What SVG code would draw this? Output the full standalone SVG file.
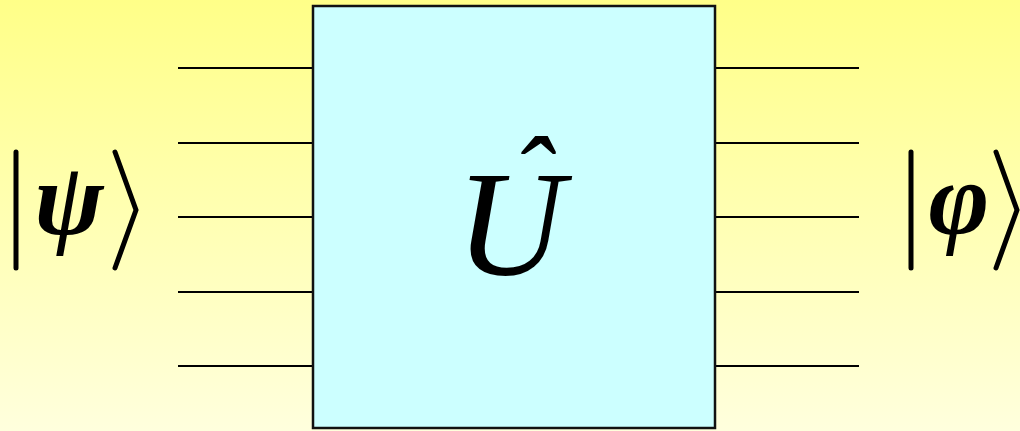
<svg xmlns="http://www.w3.org/2000/svg" width="1020" height="431" viewBox="0 0 1020 431">
<defs>
<linearGradient id="bg" x1="0" y1="0" x2="0" y2="1">
<stop offset="0" stop-color="#FFFF88"/>
<stop offset="1" stop-color="#FFFFDD"/>
</linearGradient>
<style>
.wire{stroke:#000;stroke-width:2;fill:none}
.delim{stroke:#000;stroke-width:5;fill:none;stroke-linecap:round;stroke-linejoin:miter}
.math{font-family:"Liberation Serif","Times New Roman",serif;font-style:italic;fill:#000}
</style>
</defs>
<rect x="0" y="0" width="1020" height="431" fill="url(#bg)"/>
<g id="connectors">
<line class="wire" x1="178" y1="68" x2="312" y2="68"/>
<line class="wire" x1="178" y1="143" x2="312" y2="143"/>
<line class="wire" x1="178" y1="217" x2="312" y2="217"/>
<line class="wire" x1="178" y1="292" x2="312" y2="292"/>
<line class="wire" x1="178" y1="366" x2="312" y2="366"/>
<line class="wire" x1="715" y1="68" x2="859" y2="68"/>
<line class="wire" x1="715" y1="143" x2="859" y2="143"/>
<line class="wire" x1="715" y1="217" x2="859" y2="217"/>
<line class="wire" x1="715" y1="292" x2="859" y2="292"/>
<line class="wire" x1="715" y1="366" x2="859" y2="366"/>
</g>
<g id="unitary">
<rect x="313" y="6" width="402" height="422" fill="#CCFFFF" stroke="#111" stroke-width="2.5"/>
<text class="math" x="510" y="275" font-size="150" text-anchor="middle">U</text>
<text class="math" x="531" y="220" font-size="120" text-anchor="middle">ˆ</text>
</g>
<g id="psi">
<path class="delim" d="M16,152 V268"/>
<path class="delim" d="M115,152 L136,210 L115,268"/>
<text class="math" x="69" y="234" font-size="104" font-weight="bold" text-anchor="middle">ψ</text>
</g>
<g id="phi">
<path class="delim" d="M911,152 V268"/>
<path class="delim" d="M996,152 L1017,210 L996,268"/>
<text class="math" x="959" y="234" font-size="104" font-weight="bold" text-anchor="middle">φ</text>
</g>
</svg>
